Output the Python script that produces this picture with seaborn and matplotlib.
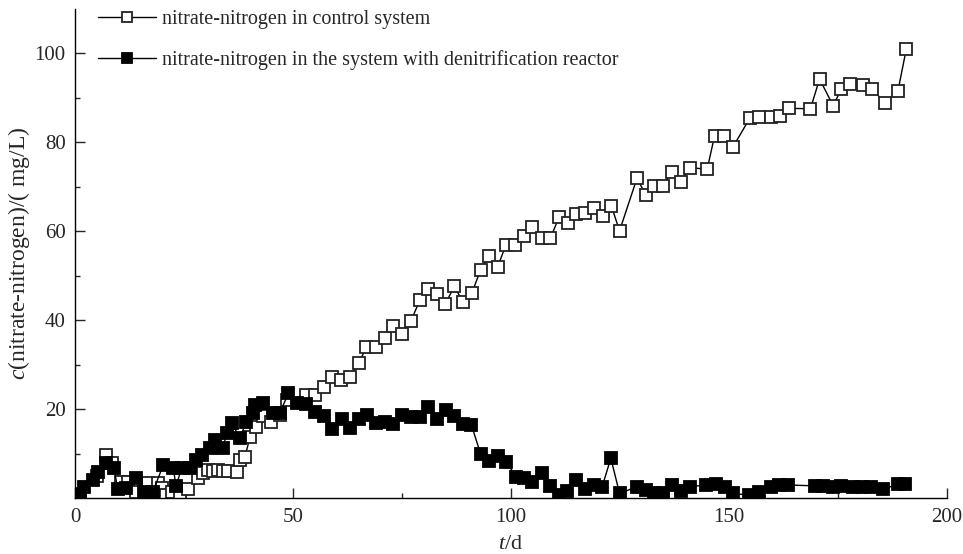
import numpy as np
import matplotlib
matplotlib.use("Agg")
import matplotlib.pyplot as plt
import seaborn as sns
from matplotlib.ticker import MultipleLocator, FixedLocator

sns.set_style("ticks")
plt.rcParams["font.family"] = ["Liberation Serif", "DejaVu Serif"]
plt.rcParams["mathtext.fontset"] = "custom"
plt.rcParams["mathtext.rm"] = "Liberation Serif"
plt.rcParams["mathtext.it"] = "Liberation Serif:italic"

# control system (open squares)
ctrl_t = [1.0, 5.0, 7.0, 8.5, 10.5, 12.0, 14.0, 16.6, 18.9, 20.0, 20.8, 22.1, 24.0,
          25.9, 28.2, 29.4, 30.5, 31.7, 32.8, 33.9, 35.1, 37.0, 37.8, 38.9, 40.1,
          41.5, 43.0, 45.0, 46.9, 48.6, 52.9, 55.0, 57.0, 59.0, 60.9, 63.0, 65.1,
          66.8, 68.9, 71.0, 73.0, 74.9, 77.0, 79.1, 81.0, 83.0, 84.9, 87.0, 89.0,
          91.0, 93.0, 95.0, 96.9, 98.8, 100.8, 102.9, 104.9, 107.0, 109.0, 111.0,
          113.1, 114.8, 116.9, 119.0, 121.0, 123.0, 124.9, 128.9, 130.9, 132.8,
          134.9, 136.9, 138.9, 141.0, 145.0, 146.7, 148.9, 150.9, 154.8, 156.8,
          159.7, 161.8, 163.8, 168.7, 170.8, 173.9, 175.8, 177.8, 180.7, 182.8,
          185.7, 188.8, 190.7]
ctrl_c = [0.8, 5.0, 9.7, 8.0, 3.7, 3.7, 1.5, 3.4, 3.4, 2.3, 0.7, 1.5, 0.7,
          2.2, 4.5, 5.6, 6.4, 6.2, 6.4, 6.2, 6.2, 6.0, 8.6, 9.2, 13.8,
          16.1, 18.5, 17.2, 18.7, 22.1, 23.2, 23.2, 25.0, 27.3, 26.6, 27.3, 30.5,
          33.9, 34.1, 35.9, 38.6, 36.9, 39.8, 44.6, 47.0, 45.8, 43.7, 47.6, 44.0,
          46.1, 51.3, 54.5, 51.9, 56.9, 57.0, 58.9, 61.0, 58.4, 58.4, 63.1,
          61.9, 63.9, 64.0, 65.2, 63.4, 65.7, 60.1, 71.9, 68.2, 70.2,
          70.2, 73.4, 71.1, 74.3, 73.9, 81.4, 81.4, 78.9, 85.4, 85.6,
          85.6, 85.8, 87.6, 87.5, 94.2, 88.2, 91.9, 93.1, 92.9, 92.0,
          88.9, 91.6, 100.9]

# system with denitrification reactor (filled squares)
reac_t = [1.0, 2.0, 4.0, 5.1, 7.0, 8.9, 9.7, 11.6, 13.9, 15.8, 17.8, 20.2, 22.5,
          23.1, 24.4, 26.3, 27.8, 29.0, 30.9, 32.0, 33.9, 34.7, 35.9, 37.8, 39.2,
          40.8, 41.2, 43.1, 45.4, 46.9, 48.9, 50.8, 52.9, 55.0, 57.0, 59.0, 61.1,
          63.0, 65.1, 67.0, 69.0, 71.0, 72.9, 75.0, 77.0, 79.1, 81.0, 82.9, 85.0,
          86.9, 88.9, 90.9, 93.0, 95.0, 97.0, 98.9, 101.1, 103.0, 104.9, 107.0,
          108.9, 110.9, 112.8, 114.8, 116.9, 119.0, 120.9, 122.9, 124.9, 128.9,
          130.9, 132.7, 134.9, 137.0, 138.9, 141.0, 144.8, 147.1, 149.0, 150.9,
          154.7, 156.9, 159.7, 161.6, 163.5, 169.7, 171.6, 173.9, 175.8, 178.4,
          180.6, 182.7, 185.3, 188.8, 190.5]
reac_c = [1.0, 2.5, 4.1, 6.0, 7.9, 6.7, 2.2, 2.3, 4.5, 1.5, 1.5, 7.5, 6.7,
          2.8, 6.7, 6.7, 8.6, 9.7, 11.2, 13.1, 11.2, 14.6, 16.9, 13.5, 17.2,
          19.1, 21.0, 21.3, 19.1, 19.1, 23.6, 21.5, 21.2, 19.3, 18.5, 15.5, 17.8,
          15.7, 17.8, 18.7, 17.0, 17.1, 16.6, 18.7, 18.3, 18.2, 20.6, 17.8, 19.8,
          18.6, 16.7, 16.5, 10.0, 8.3, 9.5, 8.2, 4.9, 4.6, 3.7, 5.6,
          2.8, 0.7, 1.6, 4.1, 2.2, 3.0, 2.6, 9.0, 1.1, 2.6,
          1.9, 1.1, 1.2, 3.0, 1.6, 2.6, 3.0, 3.2, 2.5, 1.1,
          0.7, 1.5, 2.5, 3.0, 3.0, 2.8, 2.8, 2.6, 2.8, 2.6,
          2.5, 2.5, 2.0, 3.2, 3.2]

fig = plt.figure(figsize=(9.63, 5.54), dpi=100)
ax = fig.add_axes([0.0782, 0.1005, 0.905, 0.884])

sns.lineplot(x=ctrl_t, y=ctrl_c, ax=ax, sort=False, color="black", lw=1.0,
             marker="s", markersize=8, markerfacecolor="white",
             markeredgecolor="#222222", markeredgewidth=1.3,
             label="nitrate-nitrogen in control system")
sns.lineplot(x=reac_t, y=reac_c, ax=ax, sort=False, color="black", lw=1.0,
             marker="s", markersize=8, markerfacecolor="black",
             markeredgecolor="black", markeredgewidth=1.3,
             label="nitrate-nitrogen in the system with denitrification reactor")

ax.set_xlim(0, 200)
ax.set_ylim(0, 110)
ax.xaxis.set_major_locator(MultipleLocator(50))
ax.xaxis.set_minor_locator(MultipleLocator(25))
ax.yaxis.set_major_locator(FixedLocator([20, 40, 60, 80, 100]))
ax.yaxis.set_minor_locator(FixedLocator([10, 30, 50, 70, 90]))
ax.tick_params(which="major", direction="in", length=7.5, width=1.0, labelsize=15,
               pad=7)
ax.tick_params(which="minor", direction="in", length=3.8, width=1.0)
sns.despine(ax=ax)
for s in ["left", "bottom"]:
    ax.spines[s].set_linewidth(1.0)
    ax.spines[s].set_color("black")

ax.set_xlabel("$\\it{t}$/d", fontsize=16, labelpad=6)
ax.set_ylabel("$\\it{c}$(nitrate-nitrogen)/( mg/L)", fontsize=17, labelpad=2)

ax.legend(loc="upper left", bbox_to_anchor=(0.026, 0.997), frameon=False,
          fontsize=14.5, handlelength=2.9, handletextpad=0.3, labelspacing=1.05,
          borderpad=0, borderaxespad=0, markerscale=0.9)

fig.savefig("out.png", dpi=100)
